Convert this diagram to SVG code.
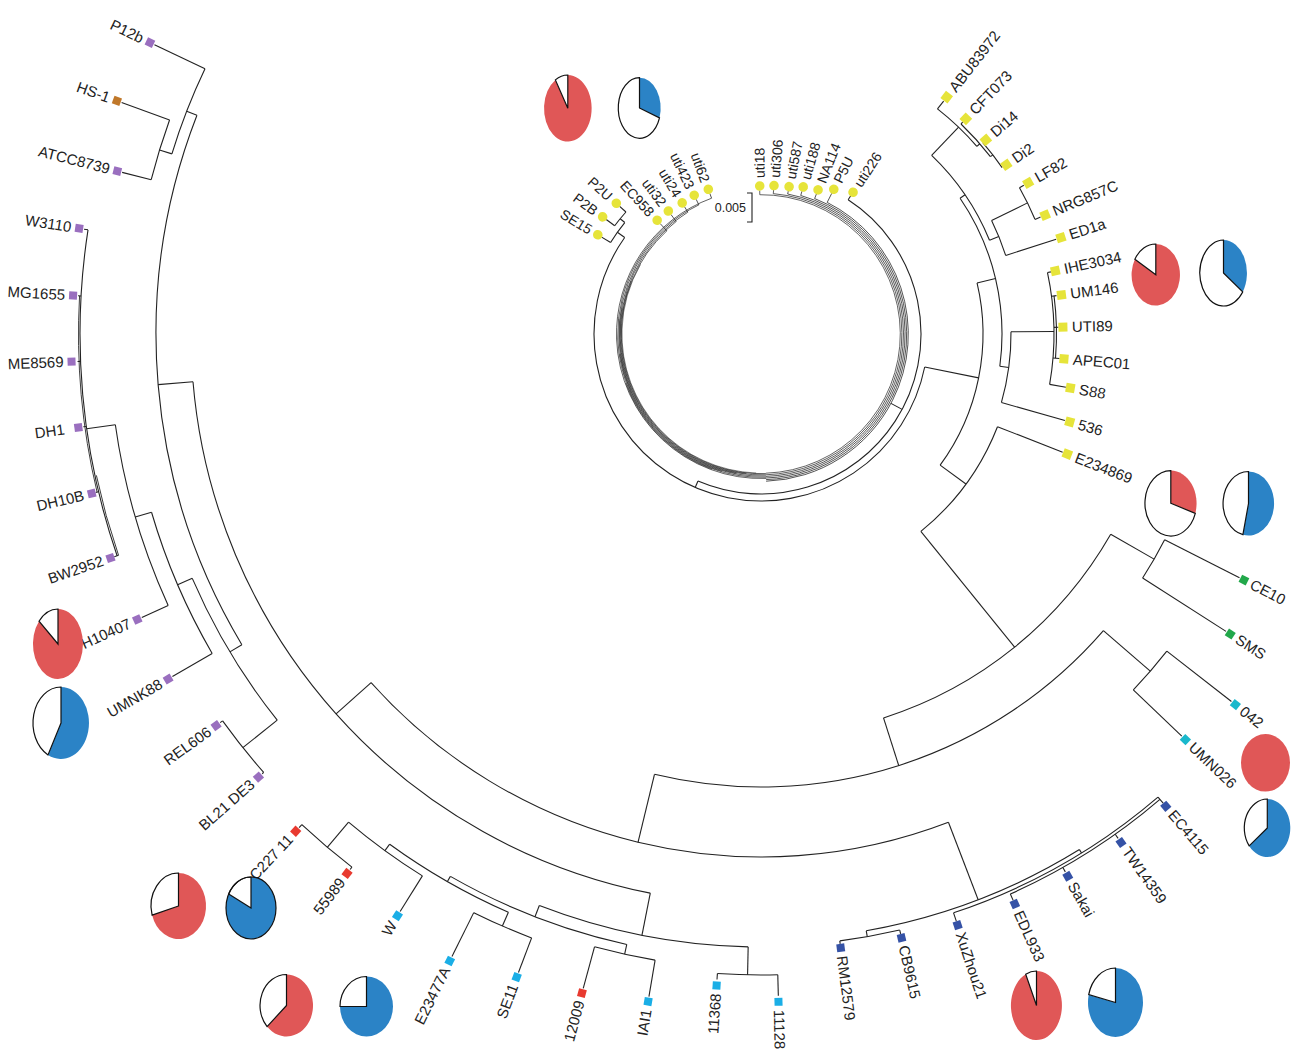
<svg xmlns="http://www.w3.org/2000/svg" width="1291" height="1051" viewBox="0 0 1291 1051">
<style>
.b{fill:none;stroke:#222;stroke-width:1.1}
.ir{stroke-width:0.7}
.ih{stroke-width:0.55}
.t{font-family:"Liberation Sans",Arial,sans-serif;font-size:15px;fill:#222}
.ti{font-size:14px}
.sc{font-family:"Liberation Sans",Arial,sans-serif;font-size:12.5px;fill:#222;text-anchor:end}
.e{text-anchor:end}
.pa{fill:#9a6fbf}.ph{fill:#c0782a}.pr{fill:#e83a30}.pl{fill:#1aaee6}.pd{fill:#3552a6}.pt{fill:#1ab8cc}.pg{fill:#22a84a}.py{fill:#e6e43a}
.cr{fill:#e05757}.cb{fill:#2b83c6}.cw{fill:#fff;stroke:#111;stroke-width:1.2}
</style>
<rect width="1291" height="1051" fill="#fff"/>
<g id="connectors" class="b" transform="translate(761 334)">
<!-- inner ring right bundle -->
<g class="ir">
<circle r="139.3" pathLength="360" stroke-dasharray="178.5 360" transform="rotate(-90.5)"/>
<circle r="140.9" pathLength="360" stroke-dasharray="173 360" transform="rotate(-85)"/>
<circle r="142.5" pathLength="360" stroke-dasharray="167.2 360" transform="rotate(-79.2)"/>
<circle r="144.1" pathLength="360" stroke-dasharray="162 360" transform="rotate(-74)"/>
<circle r="145.7" pathLength="360" stroke-dasharray="156.4 360" transform="rotate(-68.4)"/>
<circle r="147.3" pathLength="360" stroke-dasharray="151.3 360" transform="rotate(-63.3)"/>
<line x1="139.3" x2="143.5" transform="rotate(-90.5)"/>
<line x1="140.9" x2="144.5" transform="rotate(-85)"/>
<line x1="142.5" x2="145.5" transform="rotate(-79.2)"/>
<line x1="144.1" x2="148.5" transform="rotate(-74)"/>
<line x1="145.7" x2="150.5" transform="rotate(-68.4)"/>
<line x1="147.3" x2="157.5" transform="rotate(-63.3)"/>
</g>
<!-- inner ring left bundle -->
<g class="ir">
<circle r="144.5" pathLength="360" stroke-dasharray="162 360" transform="rotate(88)"/>
<circle r="143.3" pathLength="360" stroke-dasharray="156.3 360" transform="rotate(88)"/>
<circle r="142.1" pathLength="360" stroke-dasharray="151 360" transform="rotate(88)"/>
<circle r="140.9" pathLength="360" stroke-dasharray="145 360" transform="rotate(88)"/>
<circle r="139.7" pathLength="360" stroke-dasharray="139.6 360" transform="rotate(88)"/>
<line x1="144.5" x2="149.5" transform="rotate(250)"/>
<line x1="143.3" x2="149.5" transform="rotate(244.3)"/>
<line x1="142.1" x2="148.5" transform="rotate(239)"/>
<line x1="140.9" x2="149.5" transform="rotate(233)"/>
<line x1="139.7" x2="149.5" transform="rotate(227.6)"/>
</g>
<g class="ih">
<circle r="139.1" pathLength="360" stroke-dasharray="118 360" transform="rotate(92)"/>
<circle r="140.3" pathLength="360" stroke-dasharray="106 360" transform="rotate(96)"/>
<circle r="141.5" pathLength="360" stroke-dasharray="90 360" transform="rotate(100)"/>
<circle r="142.7" pathLength="360" stroke-dasharray="66 360" transform="rotate(106)"/>
<circle r="143.9" pathLength="360" stroke-dasharray="50 360" transform="rotate(110)"/>
</g>
<!-- core rings -->
<line x1="147.3" x2="160" transform="rotate(28.1)"/>
<circle r="160" pathLength="360" stroke-dasharray="170.2 360" transform="rotate(-57)"/>
<line x1="160" x2="164.5" transform="rotate(-57)"/>
<line x1="160" x2="167" transform="rotate(113.2)"/>
<circle r="167" pathLength="360" stroke-dasharray="203.9 360" transform="rotate(11.4)"/>
<line x1="167" x2="222" transform="rotate(11.4)"/>
<line x1="167" x2="176" transform="rotate(215.3)"/>
<circle r="176" pathLength="360" stroke-dasharray="8 360" transform="rotate(211.3)"/>
<line x1="176" x2="186.5" transform="rotate(211.3)"/>
<line x1="176" x2="182" transform="rotate(219.3)"/>
<circle r="182" pathLength="360" stroke-dasharray="5.6 360" transform="rotate(216.5)"/>
<line x1="182" x2="192.5" transform="rotate(216.5)"/>
<line x1="182" x2="190.5" transform="rotate(222.1)"/>
<!-- B2 -->
<circle r="222" pathLength="360" stroke-dasharray="49.5 360" transform="rotate(-13.3)"/>
<line x1="222" x2="241" transform="rotate(-13.3)"/>
<circle r="241" pathLength="360" stroke-dasharray="42 360" transform="rotate(-34.3)"/>
<line x1="241" x2="250" transform="rotate(7.7)"/>
<circle r="250" pathLength="360" stroke-dasharray="16.4 360" transform="rotate(-0.5)"/>
<line x1="250" x2="293" transform="rotate(-0.5)"/>
<circle r="293" pathLength="360" stroke-dasharray="22 360" transform="rotate(-12.1)"/>
<circle r="295.5" pathLength="360" stroke-dasharray="12.1 360" transform="rotate(-7.4)"/>
<line x1="293" x2="296.5" transform="rotate(-12.1)"/>
<line x1="293" x2="298" transform="rotate(-7.4)"/>
<line x1="293" x2="297.5" transform="rotate(-1.3)"/>
<line x1="293" x2="299.5" transform="rotate(4.7)"/>
<line x1="293" x2="309.5" transform="rotate(9.9)"/>
<line x1="250" x2="316" transform="rotate(15.9)"/>
<line x1="241" x2="247" transform="rotate(-34.3)"/>
<circle r="247" pathLength="360" stroke-dasharray="24 360" transform="rotate(-46.3)"/>
<line x1="247" x2="257" transform="rotate(-22.3)"/>
<circle r="257" pathLength="360" stroke-dasharray="8.4 360" transform="rotate(-26.2)"/>
<line x1="257" x2="310" transform="rotate(-17.8)"/>
<line x1="257" x2="297" transform="rotate(-26.2)"/>
<circle r="297" pathLength="360" stroke-dasharray="6.8 360" transform="rotate(-29.5)"/>
<line x1="297" x2="302" transform="rotate(-29.5)"/>
<line x1="297" x2="303" transform="rotate(-22.7)"/>
<line x1="247" x2="286" transform="rotate(-46.3)"/>
<circle r="286" pathLength="360" stroke-dasharray="10.9 360" transform="rotate(-51.9)"/>
<line x1="286" x2="296" transform="rotate(-51.9)"/>
<line x1="286" x2="290" transform="rotate(-41)"/>
<circle r="290" pathLength="360" stroke-dasharray="8.7 360" transform="rotate(-46.4)"/>
<line x1="290" x2="292.5" transform="rotate(-46.4)"/>
<line x1="290" x2="293" transform="rotate(-37.7)"/>
<circle r="293" pathLength="360" stroke-dasharray="6.2 360" transform="rotate(-40.8)"/>
<line x1="222" x2="254" transform="rotate(36.2)"/>
<circle r="254" pathLength="360" stroke-dasharray="29.6 360" transform="rotate(21.4)"/>
<line x1="254" x2="324" transform="rotate(21.4)"/>
<line x1="254" x2="403" transform="rotate(51)"/>
<!-- D -->
<circle r="403" pathLength="360" stroke-dasharray="42.5 360" transform="rotate(29.8)"/>
<line x1="403" x2="453" transform="rotate(29.8)"/>
<circle r="453" pathLength="360" stroke-dasharray="5.6 360" transform="rotate(27)"/>
<line x1="453" x2="537" transform="rotate(27)"/>
<line x1="453" x2="552" transform="rotate(32.6)"/>
<line x1="403" x2="453" transform="rotate(72.3)"/>
<circle r="453" pathLength="360" stroke-dasharray="62.7 360" transform="rotate(40.9)"/>
<line x1="453" x2="515" transform="rotate(40.9)"/>
<circle r="515" pathLength="360" stroke-dasharray="5.7 360" transform="rotate(38)"/>
<line x1="515" x2="597" transform="rotate(38)"/>
<line x1="515" x2="582" transform="rotate(43.7)"/>
<line x1="453" x2="523" transform="rotate(103.6)"/>
<circle r="523" pathLength="360" stroke-dasharray="69.2 360" transform="rotate(69)"/>
<!-- E -->
<line x1="523" x2="606" transform="rotate(69)"/>
<circle r="606" pathLength="360" stroke-dasharray="21.7 360" transform="rotate(58.3)"/>
<line x1="606" x2="612" transform="rotate(80)"/>
<circle r="612" pathLength="360" stroke-dasharray="5.7 360" transform="rotate(76.9)"/>
<line x1="612" x2="615" transform="rotate(82.6)"/>
<line x1="612" x2="616" transform="rotate(76.9)"/>
<line x1="606" x2="610" transform="rotate(58.3)"/>
<circle r="610" pathLength="360" stroke-dasharray="22.2 360" transform="rotate(49.4)"/>
<circle r="613" pathLength="360" stroke-dasharray="16.6 360" transform="rotate(49.4)"/>
<line x1="610" x2="618" transform="rotate(49.4)"/>
<line x1="613" x2="618" transform="rotate(54.7)"/>
<line x1="613" x2="618" transform="rotate(60.5)"/>
<line x1="613" x2="620" transform="rotate(66)"/>
<line x1="610" x2="619" transform="rotate(71.6)"/>
<!-- B1 -->
<line x1="523" x2="570" transform="rotate(138.2)"/>
<circle r="570" pathLength="360" stroke-dasharray="74 360" transform="rotate(101.2)"/>
<line x1="570" x2="613" transform="rotate(101.2)"/>
<circle r="613" pathLength="360" stroke-dasharray="20 360" transform="rotate(91.2)"/>
<line x1="613" x2="641" transform="rotate(91.2)"/>
<circle r="641" pathLength="360" stroke-dasharray="5.4 360" transform="rotate(88.5)"/>
<line x1="641" x2="662" transform="rotate(88.5)"/>
<line x1="641" x2="647" transform="rotate(93.9)"/>
<line x1="613" x2="625" transform="rotate(111.2)"/>
<circle r="625" pathLength="360" stroke-dasharray="17.4 360" transform="rotate(102.4)"/>
<line x1="625" x2="635" transform="rotate(102.4)"/>
<circle r="635" pathLength="360" stroke-dasharray="5.6 360" transform="rotate(99.6)"/>
<line x1="635" x2="678" transform="rotate(105.2)"/>
<line x1="635" x2="672" transform="rotate(99.6)"/>
<line x1="625" x2="631" transform="rotate(119.8)"/>
<circle r="631" pathLength="360" stroke-dasharray="12.45 360" transform="rotate(113.6)"/>
<line x1="631" x2="646" transform="rotate(113.6)"/>
<circle r="646" pathLength="360" stroke-dasharray="5.6 360" transform="rotate(110.8)"/>
<line x1="646" x2="695" transform="rotate(116.4)"/>
<line x1="646" x2="683" transform="rotate(110.8)"/>
<line x1="631" x2="639" transform="rotate(126.05)"/>
<circle r="639" pathLength="360" stroke-dasharray="8.2 360" transform="rotate(122)"/>
<line x1="639" x2="681" transform="rotate(122)"/>
<line x1="639" x2="672" transform="rotate(130.2)"/>
<circle r="672" pathLength="360" stroke-dasharray="5.6 360" transform="rotate(127.5)"/>
<line x1="672" x2="676" transform="rotate(133.1)"/>
<line x1="672" x2="675" transform="rotate(127.5)"/>
<!-- A -->
<line x1="570" x2="605" transform="rotate(175.2)"/>
<circle r="605" pathLength="360" stroke-dasharray="52.1 360" transform="rotate(149.1)"/>
<line x1="605" x2="616" transform="rotate(201.2)"/>
<circle r="616" pathLength="360" stroke-dasharray="8.5 360" transform="rotate(197)"/>
<line x1="616" x2="672" transform="rotate(205.5)"/>
<line x1="616" x2="629" transform="rotate(197)"/>
<circle r="629" pathLength="360" stroke-dasharray="5.7 360" transform="rotate(194.2)"/>
<line x1="629" x2="680" transform="rotate(199.9)"/>
<line x1="629" x2="659" transform="rotate(194.2)"/>
<line x1="605" x2="619" transform="rotate(149.1)"/>
<circle r="619" pathLength="360" stroke-dasharray="15.35 360" transform="rotate(141.4)"/>
<line x1="619" x2="663" transform="rotate(141.4)"/>
<circle r="663" pathLength="360" stroke-dasharray="5.7 360" transform="rotate(138.6)"/>
<line x1="663" x2="666" transform="rotate(144.3)"/>
<line x1="663" x2="665" transform="rotate(138.6)"/>
<line x1="619" x2="635" transform="rotate(156.75)"/>
<circle r="635" pathLength="360" stroke-dasharray="13.9 360" transform="rotate(149.8)"/>
<line x1="635" x2="681" transform="rotate(149.8)"/>
<line x1="635" x2="652" transform="rotate(163.7)"/>
<circle r="652" pathLength="360" stroke-dasharray="16.6 360" transform="rotate(155.4)"/>
<line x1="652" x2="681" transform="rotate(155.4)"/>
<line x1="652" x2="681" transform="rotate(172)"/>
<circle r="681" pathLength="360" stroke-dasharray="27.8 360" transform="rotate(161)"/>
<circle r="682.5" pathLength="360" stroke-dasharray="16.6 360" transform="rotate(166.6)" stroke-width="0.8"/>
<circle r="679.5" pathLength="360" stroke-dasharray="7 360" transform="rotate(161)" stroke-width="0.8"/>
<line x1="681" x2="685" transform="rotate(188.8)"/>
<line x1="681" x2="684" transform="rotate(183.2)"/>
<line x1="681" x2="684" transform="rotate(177.7)"/>
<line x1="681" x2="684" transform="rotate(172.2)"/>
<line x1="681" x2="684" transform="rotate(166.6)"/>
<line x1="679.5" x2="684" transform="rotate(161)"/>
</g>
<g id="scale-bar">
<path class="b" d="M747 193H752V222H747"/>
<text class="sc" x="746" y="212">0.005</text>
</g>
<!-- outer tips -->
<g class="t">
<g id="tip-P12b" transform="translate(761 334) rotate(205.5)"><rect class="pa" x="673" y="-4" width="8" height="8"/><text class="e" transform="rotate(180)" x="-685" y="5">P12b</text></g>
<g id="tip-HS-1" transform="translate(761 334) rotate(199.9)"><rect class="ph" x="681" y="-4" width="8" height="8"/><text class="e" transform="rotate(180)" x="-693" y="5">HS-1</text></g>
<g id="tip-ATCC8739" transform="translate(761 334) rotate(194.2)"><rect class="pa" x="660" y="-4" width="8" height="8"/><text class="e" transform="rotate(180)" x="-672" y="5">ATCC8739</text></g>
<g id="tip-W3110" transform="translate(761 334) rotate(188.8)"><rect class="pa" x="686" y="-4" width="8" height="8"/><text class="e" transform="rotate(180)" x="-698" y="5">W3110</text></g>
<g id="tip-MG1655" transform="translate(761 334) rotate(183.2)"><rect class="pa" x="685" y="-4" width="8" height="8"/><text class="e" transform="rotate(180)" x="-697" y="5">MG1655</text></g>
<g id="tip-ME8569" transform="translate(761 334) rotate(177.7)"><rect class="pa" x="686" y="-4" width="8" height="8"/><text class="e" transform="rotate(180)" x="-698" y="5">ME8569</text></g>
<g id="tip-DH1" transform="translate(761 334) rotate(172.2)"><rect class="pa" x="685" y="-4" width="8" height="8"/><text class="e" transform="rotate(180)" x="-703" y="5">DH1</text></g>
<g id="tip-DH10B" transform="translate(761 334) rotate(166.6)"><rect class="pa" x="684" y="-4" width="8" height="8"/><text class="e" transform="rotate(180)" x="-696" y="5">DH10B</text></g>
<g id="tip-BW2952" transform="translate(761 334) rotate(161)"><rect class="pa" x="684" y="-4" width="8" height="8"/><text class="e" transform="rotate(180)" x="-696" y="5">BW2952</text></g>
<g id="tip-H10407" transform="translate(761 334) rotate(155.4)"><rect class="pa" x="682" y="-4" width="8" height="8"/><text class="e" transform="rotate(180)" x="-694" y="5">H10407</text></g>
<g id="tip-UMNK88" transform="translate(761 334) rotate(149.8)"><rect class="pa" x="682" y="-4" width="8" height="8"/><text class="e" transform="rotate(180)" x="-694" y="5">UMNK88</text></g>
<g id="tip-REL606" transform="translate(761 334) rotate(144.3)"><rect class="pa" x="667" y="-4" width="8" height="8"/><text class="e" transform="rotate(180)" x="-679" y="5">REL606</text></g>
<g id="tip-BL21DE3" transform="translate(761 334) rotate(138.6)"><rect class="pa" x="666" y="-4" width="8" height="8"/><text class="e" transform="rotate(180)" x="-678" y="5">BL21 DE3</text></g>
<g id="tip-C22711" transform="translate(761 334) rotate(133.1)"><rect class="pr" x="677" y="-4" width="8" height="8"/><text class="e" transform="rotate(180)" x="-689" y="5">C227 11</text></g>
<g id="tip-55989" transform="translate(761 334) rotate(127.5)"><rect class="pr" x="676" y="-4" width="8" height="8"/><text class="e" transform="rotate(180)" x="-688" y="5">55989</text></g>
<g id="tip-W" transform="translate(761 334) rotate(122)"><rect class="pl" x="682" y="-4" width="8" height="8"/><text class="e" transform="rotate(180)" x="-694" y="5">W</text></g>
<g id="tip-E23477A" transform="translate(761 334) rotate(116.4)"><rect class="pl" x="696" y="-4" width="8" height="8"/><text class="e" transform="rotate(180)" x="-708" y="5">E23477A</text></g>
<g id="tip-SE11" transform="translate(761 334) rotate(110.8)"><rect class="pl" x="684" y="-4" width="8" height="8"/><text class="e" transform="rotate(180)" x="-696" y="5">SE11</text></g>
<g id="tip-12009" transform="translate(761 334) rotate(105.2)"><rect class="pr" x="679" y="-4" width="8" height="8"/><text class="e" transform="rotate(180)" x="-691" y="5">12009</text></g>
<g id="tip-IAI1" transform="translate(761 334) rotate(99.6)"><rect class="pl" x="673" y="-4" width="8" height="8"/><text class="e" transform="rotate(180)" x="-685" y="5">IAI1</text></g>
<g id="tip-11368" transform="translate(761 334) rotate(93.9)"><rect class="pl" x="649" y="-4" width="8" height="8"/><text class="e" transform="rotate(180)" x="-661" y="5">11368</text></g>
<g id="tip-11128" transform="translate(761 334) rotate(88.5)"><rect class="pl" x="664" y="-4" width="8" height="8"/><text x="676" y="5">11128</text></g>
<g id="tip-RM12579" transform="translate(761 334) rotate(82.6)"><rect class="pd" x="615" y="-4" width="8" height="8"/><text x="627" y="5">RM12579</text></g>
<g id="tip-CB9615" transform="translate(761 334) rotate(76.9)"><rect class="pd" x="616" y="-4" width="8" height="8"/><text x="628" y="5">CB9615</text></g>
<g id="tip-XuZhou21" transform="translate(761 334) rotate(71.6)"><rect class="pd" x="619" y="-4" width="8" height="8"/><text x="631" y="5">XuZhou21</text></g>
<g id="tip-EDL933" transform="translate(761 334) rotate(66)"><rect class="pd" x="620" y="-4" width="8" height="8"/><text x="632" y="5">EDL933</text></g>
<g id="tip-Sakai" transform="translate(761 334) rotate(60.5)"><rect class="pd" x="619" y="-4" width="8" height="8"/><text x="631" y="5">Sakai</text></g>
<g id="tip-TW14359" transform="translate(761 334) rotate(54.7)"><rect class="pd" x="619" y="-4" width="8" height="8"/><text x="631" y="5">TW14359</text></g>
<g id="tip-EC4115" transform="translate(761 334) rotate(49.4)"><rect class="pd" x="618" y="-4" width="8" height="8"/><text x="630" y="5">EC4115</text></g>
<g id="tip-UMN026" transform="translate(761 334) rotate(43.7)"><rect class="pt" x="583" y="-4" width="8" height="8"/><text x="595" y="5">UMN026</text></g>
<g id="tip-042" transform="translate(761 334) rotate(38)"><rect class="pt" x="598" y="-4" width="8" height="8"/><text x="610" y="5">042</text></g>
<g id="tip-SMS" transform="translate(761 334) rotate(32.6)"><rect class="pg" x="553" y="-4" width="8" height="8"/><text x="565" y="5">SMS</text></g>
<g id="tip-CE10" transform="translate(761 334) rotate(27)"><rect class="pg" x="538" y="-4" width="8" height="8"/><text x="550" y="5">CE10</text></g>
<g id="tip-E234869" transform="translate(761 334) rotate(21.4)"><rect class="py" x="324.5" y="-4.5" width="9" height="9"/><text x="338" y="5">E234869</text></g>
<g id="tip-536" transform="translate(761 334) rotate(15.9)"><rect class="py" x="316.5" y="-4.5" width="9" height="9"/><text x="330" y="5">536</text></g>
<g id="tip-S88" transform="translate(761 334) rotate(9.9)"><rect class="py" x="309.5" y="-4.5" width="9" height="9"/><text x="323" y="5">S88</text></g>
<g id="tip-APEC01" transform="translate(761 334) rotate(4.7)"><rect class="py" x="299.5" y="-4.5" width="9" height="9"/><text x="313" y="5">APEC01</text></g>
<g id="tip-UTI89" transform="translate(761 334) rotate(-1.3)"><rect class="py" x="297.5" y="-4.5" width="9" height="9"/><text x="311" y="5">UTI89</text></g>
<g id="tip-UM146" transform="translate(761 334) rotate(-7.4)"><rect class="py" x="298.5" y="-4.5" width="9" height="9"/><text x="312" y="5">UM146</text></g>
<g id="tip-IHE3034" transform="translate(761 334) rotate(-12.1)"><rect class="py" x="296.5" y="-4.5" width="9" height="9"/><text x="310" y="5">IHE3034</text></g>
<g id="tip-ED1a" transform="translate(761 334) rotate(-17.8)"><rect class="py" x="310.5" y="-4.5" width="9" height="9"/><text x="324" y="5">ED1a</text></g>
<g id="tip-NRG857C" transform="translate(761 334) rotate(-22.7)"><rect class="py" x="303.5" y="-4.5" width="9" height="9"/><text x="317" y="5">NRG857C</text></g>
<g id="tip-LF82" transform="translate(761 334) rotate(-29.5)"><rect class="py" x="302.5" y="-4.5" width="9" height="9"/><text x="316" y="5">LF82</text></g>
<g id="tip-Di2" transform="translate(761 334) rotate(-34.6)"><rect class="py" x="293.5" y="-4.5" width="9" height="9"/><text x="307" y="5">Di2</text></g>
<g id="tip-Di14" transform="translate(761 334) rotate(-40.8)"><rect class="py" x="292.5" y="-4.5" width="9" height="9"/><text x="306" y="5">Di14</text></g>
<g id="tip-CFT073" transform="translate(761 334) rotate(-46.4)"><rect class="py" x="292.5" y="-4.5" width="9" height="9"/><text x="306" y="5">CFT073</text></g>
<g id="tip-ABU83972" transform="translate(761 334) rotate(-51.9)"><rect class="py" x="296.5" y="-4.5" width="9" height="9"/><text x="310" y="5">ABU83972</text></g>
</g>
<!-- inner tips -->
<g class="t ti">
<g id="tip-uti18" transform="translate(761 334) rotate(-90.5)"><circle class="py" cx="148" r="4.8"/><text x="156" y="5">uti18</text></g>
<g id="tip-uti306" transform="translate(761 334) rotate(-85)"><circle class="py" cx="149" r="4.8"/><text x="157" y="5">uti306</text></g>
<g id="tip-uti587" transform="translate(761 334) rotate(-79.2)"><circle class="py" cx="150" r="4.8"/><text x="158" y="5">uti587</text></g>
<g id="tip-uti188" transform="translate(761 334) rotate(-74)"><circle class="py" cx="153" r="4.8"/><text x="161" y="5">uti188</text></g>
<g id="tip-NA114" transform="translate(761 334) rotate(-68.4)"><circle class="py" cx="155" r="4.8"/><text x="163" y="5">NA114</text></g>
<g id="tip-P5U" transform="translate(761 334) rotate(-63.3)"><circle class="py" cx="162" r="4.8"/><text x="170" y="5">P5U</text></g>
<g id="tip-uti226" transform="translate(761 334) rotate(-57)"><circle class="py" cx="169" r="4.8"/><text x="177" y="5">uti226</text></g>
<g id="tip-uti62" transform="translate(761 334) rotate(-110)"><circle class="py" cx="154" r="4.8"/><text class="e" transform="rotate(180)" x="-162" y="5">uti62</text></g>
<g id="tip-uti423" transform="translate(761 334) rotate(-115.7)"><circle class="py" cx="154" r="4.8"/><text class="e" transform="rotate(180)" x="-162" y="5">uti423</text></g>
<g id="tip-uti24" transform="translate(761 334) rotate(-121)"><circle class="py" cx="153" r="4.8"/><text class="e" transform="rotate(180)" x="-161" y="5">uti24</text></g>
<g id="tip-uti32" transform="translate(761 334) rotate(-127)"><circle class="py" cx="154" r="4.8"/><text class="e" transform="rotate(180)" x="-162" y="5">uti32</text></g>
<g id="tip-EC958" transform="translate(761 334) rotate(-132.4)"><circle class="py" cx="154" r="4.8"/><text class="e" transform="rotate(180)" x="-162" y="5">EC958</text></g>
<g id="tip-P2U" transform="translate(761 334) rotate(-137.9)"><circle class="py" cx="195" r="4.8"/><text class="e" transform="rotate(180)" x="-203" y="5">P2U</text></g>
<g id="tip-P2B" transform="translate(761 334) rotate(-143.5)"><circle class="py" cx="197" r="4.8"/><text class="e" transform="rotate(180)" x="-205" y="5">P2B</text></g>
<g id="tip-SE15" transform="translate(761 334) rotate(-148.7)"><circle class="py" cx="191" r="4.8"/><text class="e" transform="rotate(180)" x="-199" y="5">SE15</text></g>
</g>
<!-- pies -->
<g id="pie-st131-red"><path class="cr" d="M567.8 108.3L567.8 75A23.8 33.3 0 1 1 555.4 79.9Z"/><path class="cw" d="M567.8 108.3L555.4 79.9A23.8 33.3 0 0 1 567.8 75Z"/></g>
<g id="pie-st131-blue"><path class="cb" d="M639.5 108L639.5 77.7A21.2 30.3 0 0 1 659.5 117.9Z"/><path class="cw" d="M639.5 108L659.5 117.9A21.2 30.3 0 1 1 639.5 77.7Z"/></g>
<g id="pie-b2-red"><path class="cr" d="M1155.8 274.8L1155.8 244A24.2 30.8 0 1 1 1134.9 259.2Z"/><path class="cw" d="M1155.8 274.8L1134.9 259.2A24.2 30.8 0 0 1 1155.8 244Z"/></g>
<g id="pie-b2-blue"><path class="cb" d="M1223.5 273L1223.5 240A23.5 33 0 0 1 1242.7 291.9Z"/><path class="cw" d="M1223.5 273L1242.7 291.9A23.5 33 0 1 1 1223.5 240Z"/></g>
<g id="pie-d-red"><path class="cr" d="M1170.8 503.3L1170.8 470.6A25.8 32.7 0 0 1 1195.3 513.4Z"/><path class="cw" d="M1170.8 503.3L1195.3 513.4A25.8 32.7 0 1 1 1170.8 470.6Z"/></g>
<g id="pie-d-blue"><path class="cb" d="M1248.5 503.5L1248.5 471.5A25.5 32 0 1 1 1242.9 534.7Z"/><path class="cw" d="M1248.5 503.5L1242.9 534.7A25.5 32 0 0 1 1248.5 471.5Z"/></g>
<g id="pie-umn-red"><ellipse class="cr" cx="1265.5" cy="762.8" rx="24.5" ry="28.8"/></g>
<g id="pie-umn-blue"><path class="cb" d="M1267.3 828L1267.3 799A23 29 0 1 1 1249.2 845.9Z"/><path class="cw" d="M1267.3 828L1249.2 845.9A23 29 0 0 1 1267.3 799Z"/></g>
<g id="pie-e-red"><path class="cr" d="M1036.5 1005.5L1036.5 971A25.5 34.5 0 1 1 1025.7 974.2Z"/><path class="cw" d="M1036.5 1005.5L1025.7 974.2A25.5 34.5 0 0 1 1036.5 971Z"/></g>
<g id="pie-e-blue"><path class="cb" d="M1115.5 1002.5L1115.5 968A27.5 34.5 0 1 1 1088.7 994.7Z"/><path class="cw" d="M1115.5 1002.5L1088.7 994.7A27.5 34.5 0 0 1 1115.5 968Z"/></g>
<g id="pie-c227-red"><path class="cr" d="M178.5 906L178.5 873A27.5 33 0 1 1 152.1 915.1Z"/><path class="cw" d="M178.5 906L152.1 915.1A27.5 33 0 0 1 178.5 873Z"/></g>
<g id="pie-c227-blue"><path class="cb" d="M251 908L251 877A25 31 0 1 1 228.7 893.9Z"/><path class="cw" d="M251 908L228.7 893.9A25 31 0 0 1 251 877Z"/><ellipse cx="251" cy="908" rx="25" ry="31" fill="none" stroke="#111" stroke-width="1.2"/></g>
<g id="pie-b1-red"><path class="cr" d="M286.5 1005.5L286.5 974.5A26.5 31 0 1 1 267.1 1026.6Z"/><path class="cw" d="M286.5 1005.5L267.1 1026.6A26.5 31 0 0 1 286.5 974.5Z"/></g>
<g id="pie-b1-blue"><path class="cb" d="M366.5 1006.5L366.5 976.5A26.5 30 0 1 1 340 1006.5Z"/><path class="cw" d="M366.5 1006.5L340 1006.5A26.5 30 0 0 1 366.5 976.5Z"/></g>
<g id="pie-a-red"><path class="cr" d="M58 644L58 609A25 35 0 1 1 39 621.2Z"/><path class="cw" d="M58 644L39 621.2A25 35 0 0 1 58 609Z"/></g>
<g id="pie-a-blue"><path class="cb" d="M61 723L61 687A28 36 0 1 1 48 754.9Z"/><path class="cw" d="M61 723L48 754.9A28 36 0 0 1 61 687Z"/></g>
</svg>
